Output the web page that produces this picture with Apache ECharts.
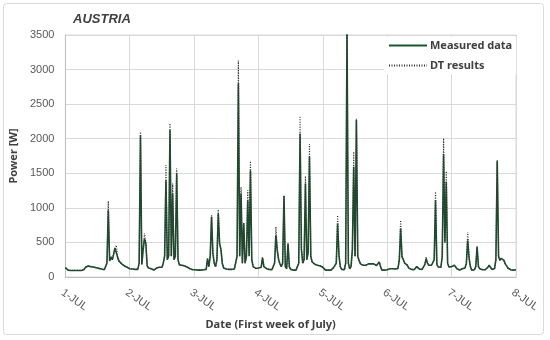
<!DOCTYPE html>
<html><head><meta charset="utf-8">
<script src="https://cdn.jsdelivr.net/npm/echarts@6/dist/echarts.min.js"></script>
<style>html,body{margin:0;padding:0;background:#fff}#c{width:550px;height:340px}</style>
</head><body><div id="c"></div>
<script>
const title = 'AUSTRIA';
const dayLabels = ['1-JUL','2-JUL','3-JUL','4-JUL','5-JUL','6-JUL','7-JUL','8-JUL'];
const yTicks = [0,500,1000,1500,2000,2500,3000,3500];
// half-hourly values, one array per day
const measuredDay1 = [135,120,100,95,95,95,95,95,95,95,95,95,95,95,110,140,155,160,155,150,150,145,140,135,130,125,120,115,105,105,110,200,966,230,290,250,330,420,435,280,230,210,190,175,160,150,140,130];
const measuredDay2 = [120,118,115,112,110,108,110,200,2050,180,400,555,480,160,130,125,120,105,100,100,130,140,140,145,140,200,300,1400,250,300,2125,300,1208,250,300,1500,250,175,170,170,165,160,150,140,130,120,110,105];
const measuredDay3 = [105,105,100,100,100,100,100,105,105,110,265,150,300,870,340,200,150,250,918,480,400,200,130,120,115,110,110,110,110,110,115,120,300,2800,300,1208,200,773,200,300,1110,300,1545,250,150,130,125,120];
const measuredDay4 = [130,135,140,280,150,125,120,115,110,105,105,105,200,604,386,250,190,150,200,1174,150,120,483,150,110,100,100,100,100,105,200,2077,400,200,250,1352,250,350,1739,300,217,200,185,175,170,165,160,150];
const measuredDay5 = [140,130,100,100,100,100,100,100,135,140,200,773,314,150,110,105,105,200,3550,200,120,150,400,1594,300,2270,300,240,190,170,170,165,170,175,190,195,190,195,190,170,165,170,217,150,100,100,100,100];
const measuredDay6 = [105,115,120,120,120,115,115,120,125,250,700,290,250,200,193,170,130,120,110,105,105,110,150,140,115,110,110,115,180,265,200,170,175,170,170,250,1110,180,145,140,140,300,1777,500,1376,200,145,140];
const measuredDay7 = [150,165,170,150,120,110,100,100,120,135,130,200,531,275,150,100,100,105,150,435,150,120,110,105,100,105,110,140,170,150,110,110,120,250,1681,300,240,270,290,240,190,160,130,115,105,100,100,100,105];

const dtDay1 = [135,120,100,95,95,95,95,95,95,95,95,95,95,95,110,140,155,160,155,150,150,145,140,135,130,125,120,115,105,105,110,200,1100,230,290,250,330,420,460,280,230,210,190,175,160,150,140,130];
const dtDay2 = [120,118,115,112,110,108,110,200,2100,180,400,630,500,160,130,125,120,105,100,100,130,140,140,145,140,200,300,1618,250,300,2222,300,1352,250,300,1570,250,175,170,170,165,160,150,140,130,120,110,105];
const dtDay3 = [105,105,100,100,100,100,100,105,105,110,265,150,300,893,340,200,150,250,975,480,400,200,130,120,115,110,110,110,110,110,115,120,300,3130,300,1300,200,790,200,300,1255,300,1676,250,150,130,125,120];
const dtDay4 = [130,135,140,280,150,125,120,115,110,105,105,105,200,725,386,250,190,150,200,1180,150,120,483,150,110,100,100,100,100,105,200,2328,400,200,250,1459,250,350,1922,300,217,200,185,175,170,165,160,150];
const dtDay5 = [140,130,100,100,100,100,100,100,135,140,200,893,314,150,110,105,105,200,3600,200,120,150,400,1811,300,2290,300,240,190,170,170,165,170,175,190,195,190,195,190,170,165,170,217,150,100,100,100,100];
const dtDay6 = [105,115,120,120,120,115,115,120,125,250,821,290,250,200,193,170,130,120,110,105,105,110,150,140,115,110,110,115,180,290,200,170,175,170,170,250,1232,180,145,140,140,300,2004,500,1531,200,145,140];
const dtDay7 = [150,165,170,150,120,110,100,100,120,135,130,200,652,275,150,100,100,105,150,440,150,120,110,105,100,105,110,140,170,150,110,110,120,250,1690,300,240,270,290,240,190,160,130,115,105,100,100,100,105];

const measured = [].concat(measuredDay1,measuredDay2,measuredDay3,measuredDay4,measuredDay5,measuredDay6,measuredDay7);
const dtResults = [].concat(dtDay1,dtDay2,dtDay3,dtDay4,dtDay5,dtDay6,dtDay7);
const perDay = 48;
const categories = measured.map((_, i) => String(i));

const chart = echarts.init(document.getElementById('c'));
chart.setOption({
  backgroundColor: '#fff',
  animation: false,
  title: {
    text: title, left: 68, top: 8,
    textStyle: {fontFamily: 'Liberation Sans', fontSize: 13, fontWeight: 'bold', fontStyle: 'italic', color: '#404040'}
  },
  graphic: [{
    type: 'rect', z: -1, silent: true,
    shape: {x: 3.5, y: 3.5, width: 540, height: 331, r: 3},
    style: {fill: 'none', stroke: '#d9d9d9', lineWidth: 1}
  }],
  legend: {
    orient: 'vertical', left: 384, top: 37,
    backgroundColor: '#fff', padding: [3, 4, 3, 4], itemGap: 9,
    itemWidth: 38, itemHeight: 12,
    itemStyle: {opacity: 0},
    textStyle: {fontFamily: 'Noto Sans', fontSize: 11, fontWeight: 'bold', color: '#404040', padding: [0, 0, 0, -2]},
    data: ['Measured data', 'DT results']
  },
  grid: {left: 60, right: 34, top: 35, bottom: 63, show: true, borderColor: '#d9d9d9', borderWidth: 1},
  xAxis: {
    type: 'category', data: categories, boundaryGap: false,
    axisLine: {show: true, lineStyle: {color: '#bfbfbf'}},
    axisTick: {show: false},
    splitLine: {show: true, interval: perDay - 1, lineStyle: {color: '#d9d9d9'}},
    axisLabel: {
      interval: perDay - 1, rotate: -35, margin: 10, verticalAlign: 'top',
      fontFamily: 'Liberation Sans', fontSize: 11, color: '#595959',
      formatter: (v, i) => (i % perDay === 0 ? dayLabels[i / perDay] : '')
    },
    name: 'Date (First week of July)', nameLocation: 'middle', nameGap: 42,
    nameTextStyle: {fontFamily: 'Noto Sans', fontSize: 11, fontWeight: 'bold', color: '#404040', padding: [0, 40, 0, 0]}
  },
  yAxis: {
    type: 'value', min: yTicks[0], max: yTicks[yTicks.length - 1], interval: 500,
    axisLine: {show: true, lineStyle: {color: '#bfbfbf'}},
    axisTick: {show: false},
    splitLine: {show: true, lineStyle: {color: '#d9d9d9'}},
    axisLabel: {margin: 11, fontFamily: 'Liberation Sans', fontSize: 11, color: '#595959', formatter: (v) => String(v)},
    name: 'Power [W]', nameLocation: 'middle', nameGap: 41, nameRotate: 90,
    nameTextStyle: {fontFamily: 'Noto Sans', fontSize: 11, fontWeight: 'bold', color: '#404040'}
  },
  series: [
    {name: 'Measured data', type: 'line', data: measured, symbol: 'none', clip: true,
     lineStyle: {color: '#1c5430', width: 1.6}, itemStyle: {color: '#1c5430'}, z: 2},
    {name: 'DT results', type: 'line', data: dtResults, symbol: 'none', clip: true,
     lineStyle: {color: '#333333', width: 1.2, type: [1, 1.5]}, itemStyle: {color: '#333333'}, z: 3}
  ]
});
</script></body></html>
